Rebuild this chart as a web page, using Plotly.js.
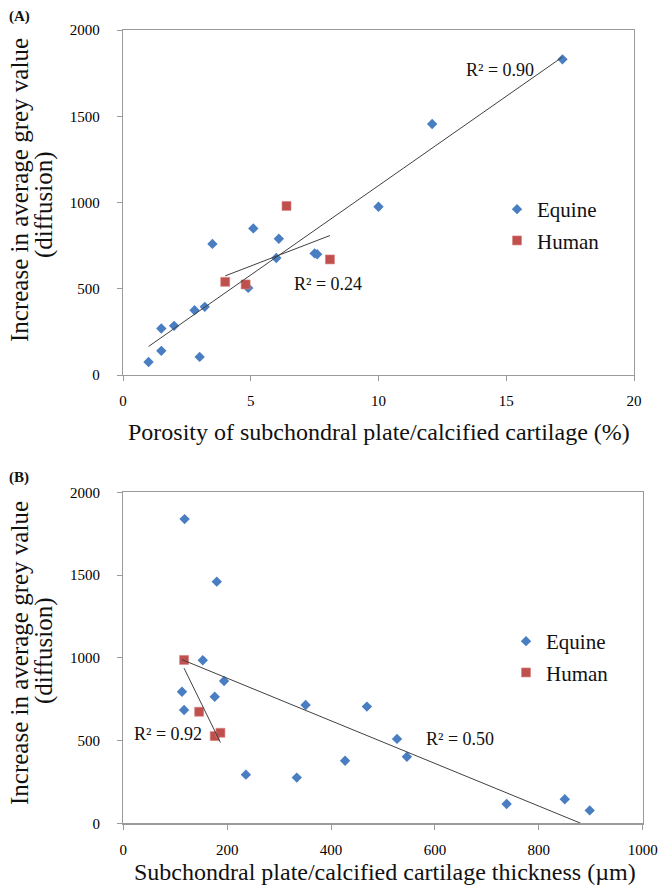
<!DOCTYPE html>
<html>
<head>
<meta charset="utf-8">
<script src="https://cdn.plot.ly/plotly-3.0.1.min.js"></script>
<style>html,body{margin:0;padding:0;background:#fff;}#chart{width:662px;height:887px;}</style>
</head>
<body>
<div id="chart"></div>
<script>
// Panel A: porosity (%) vs increase in grey value
const equineA_x = [1.0, 1.5, 1.5, 2.0, 2.8, 3.2, 3.0, 3.5, 4.9, 5.1, 6.1, 6.0, 7.5, 7.6, 10.0, 12.1, 17.2];
const equineA_y = [75, 140, 270, 285, 375, 395, 105, 760, 505, 850, 790, 678, 705, 700, 975, 1455, 1830];
const humanA_x = [4.0, 4.8, 6.4, 8.1];
const humanA_y = [540, 525, 980, 670];
// Panel B: thickness (µm) vs increase in grey value
const equineB_x = [118, 180, 153, 113, 117, 176, 194, 351, 469, 427, 236, 334, 527, 546, 738, 850, 898];
const equineB_y = [1838, 1460, 985, 795, 685, 765, 860, 715, 705, 378, 294, 276, 510, 402, 117, 145, 78];
const humanB_x = [117, 146, 176, 187];
const humanB_y = [987, 674, 527, 547];

const r2Labels = ["R² = 0.90", "R² = 0.24", "R² = 0.92", "R² = 0.50"];
const seriesNames = ["Equine", "Human"];
const yTicksVals = [0, 500, 1000, 1500, 2000];
const xTicksA = [0, 5, 10, 15, 20];
const xTicksB = [0, 200, 400, 600, 800, 1000];

function fit(xs, ys, clipZero) {
  const n = xs.length;
  const mx = xs.reduce((a, b) => a + b, 0) / n;
  const my = ys.reduce((a, b) => a + b, 0) / n;
  let sxy = 0, sxx = 0;
  for (let i = 0; i < n; i++) { sxy += (xs[i] - mx) * (ys[i] - my); sxx += (xs[i] - mx) ** 2; }
  const m = sxy / sxx, b = my - m * mx;
  const x0 = Math.min(...xs);
  let x1 = Math.max(...xs);
  if (clipZero && m * x1 + b < 0) x1 = -b / m;
  return { x: [x0, x1], y: [m * x0 + b, m * x1 + b] };
}

const BLUE = '#4A7EC2', RED = '#C0504D', LINE = '#404040';
const FONT = 'Liberation Serif, Times New Roman, serif';

const fA1 = fit(equineA_x, equineA_y, true);
const fA2 = fit(humanA_x, humanA_y, true);
const fB1 = fit(equineB_x, equineB_y, true);
const fB2 = fit(humanB_x, humanB_y, true);

const diamond = { symbol: 'diamond', size: 8, color: BLUE };
const square = { symbol: 'square', size: 9, color: RED, line: { color: '#D9837F', width: 0.6 } };

const traces = [
  { x: equineA_x, y: equineA_y, type: 'scatter', mode: 'markers', name: seriesNames[0], marker: diamond, xaxis: 'x', yaxis: 'y', legend: 'legend', legendgroup: 'a1', cliponaxis: false },
  { x: humanA_x, y: humanA_y, type: 'scatter', mode: 'markers', name: seriesNames[1], marker: square, xaxis: 'x', yaxis: 'y', legend: 'legend', legendgroup: 'a2', cliponaxis: false },
  { x: fA1.x, y: fA1.y, type: 'scatter', mode: 'lines', line: { color: LINE, width: 1 }, showlegend: false, xaxis: 'x', yaxis: 'y', hoverinfo: 'skip' },
  { x: fA2.x, y: fA2.y, type: 'scatter', mode: 'lines', line: { color: LINE, width: 1 }, showlegend: false, xaxis: 'x', yaxis: 'y', hoverinfo: 'skip' },
  { x: equineB_x, y: equineB_y, type: 'scatter', mode: 'markers', name: seriesNames[0], marker: diamond, xaxis: 'x2', yaxis: 'y2', legend: 'legend2', legendgroup: 'b1', cliponaxis: false },
  { x: humanB_x, y: humanB_y, type: 'scatter', mode: 'markers', name: seriesNames[1], marker: square, xaxis: 'x2', yaxis: 'y2', legend: 'legend2', legendgroup: 'b2', cliponaxis: false },
  { x: fB1.x, y: fB1.y, type: 'scatter', mode: 'lines', line: { color: LINE, width: 1 }, showlegend: false, xaxis: 'x2', yaxis: 'y2', hoverinfo: 'skip' },
  { x: fB2.x, y: fB2.y, type: 'scatter', mode: 'lines', line: { color: LINE, width: 1 }, showlegend: false, xaxis: 'x2', yaxis: 'y2', hoverinfo: 'skip' }
];

const W = 662, H = 887;
const px = v => v / W, py = v => (H - v) / H;

const axisCommon = {
  showgrid: false, zeroline: false, showline: true, mirror: true,
  linecolor: '#9a9a9a', linewidth: 1.2,
  ticks: 'outside', ticklen: 5, tickcolor: '#9a9a9a', tickwidth: 1,
  tickfont: { family: FONT, size: 15, color: '#000' },
  fixedrange: true
};

const legendCommon = {
  xanchor: 'left', yanchor: 'top', bgcolor: 'rgba(0,0,0,0)', borderwidth: 0,
  font: { family: FONT, size: 21, color: '#111' },
  itemwidth: 30, traceorder: 'grouped', tracegroupgap: 1
};

const annFont = { family: FONT, size: 24, color: '#111' };
const yTitleFont = { family: FONT, size: 25, color: '#111' };
const r2Font = { family: FONT, size: 18, color: '#111' };
const annotations = [
  { text: r2Labels[0], x: 14.74, y: 1768, xref: 'x', yref: 'y', showarrow: false, font: r2Font },
  { text: r2Labels[1], x: 8.04, y: 527, xref: 'x', yref: 'y', showarrow: false, font: r2Font },
  { text: r2Labels[2], x: 87, y: 540, xref: 'x2', yref: 'y2', showarrow: false, font: r2Font },
  { text: r2Labels[3], x: 649, y: 509, xref: 'x2', yref: 'y2', showarrow: false, font: r2Font },
  { text: 'Porosity of subchondral plate/calcified cartilage (%)', x: px(378.5), y: py(432), xref: 'paper', yref: 'paper', showarrow: false, font: annFont, xanchor: 'center', yanchor: 'middle' },
  { text: 'Subchondral plate/calcified cartilage thickness (µm)', x: px(385), y: py(872), xref: 'paper', yref: 'paper', showarrow: false, font: annFont, xanchor: 'center', yanchor: 'middle' },
  { text: 'Increase in average grey value', x: px(19), y: py(190), xref: 'paper', yref: 'paper', showarrow: false, textangle: -90, font: yTitleFont, xanchor: 'center', yanchor: 'middle' },
  { text: '(diffusion)', x: px(44), y: py(205), xref: 'paper', yref: 'paper', showarrow: false, textangle: -90, font: yTitleFont, xanchor: 'center', yanchor: 'middle' },
  { text: 'Increase in average grey value', x: px(19), y: py(653), xref: 'paper', yref: 'paper', showarrow: false, textangle: -90, font: yTitleFont, xanchor: 'center', yanchor: 'middle' },
  { text: '(diffusion)', x: px(44), y: py(651), xref: 'paper', yref: 'paper', showarrow: false, textangle: -90, font: yTitleFont, xanchor: 'center', yanchor: 'middle' },
  { text: '<b>(A)</b>', x: px(7), y: py(16), xref: 'paper', yref: 'paper', showarrow: false, xanchor: 'left', yanchor: 'middle', font: { family: FONT, size: 15, color: '#111' } },
  { text: '<b>(B)</b>', x: px(7), y: py(477), xref: 'paper', yref: 'paper', showarrow: false, xanchor: 'left', yanchor: 'middle', font: { family: FONT, size: 15, color: '#111' } }
];

const layout = {
  width: W, height: H,
  margin: { l: 0, r: 0, t: 0, b: 0 },
  paper_bgcolor: '#fff', plot_bgcolor: '#fff',
  showlegend: true,
  xaxis: Object.assign({}, axisCommon, { domain: [px(123), px(634)], range: [0, 20], tickvals: xTicksA, ticklabelstandoff: 7, anchor: 'y' }),
  yaxis: Object.assign({}, axisCommon, { domain: [py(375), py(30)], range: [0, 2000], tickvals: yTicksVals, ticklabelstandoff: 14, anchor: 'x' }),
  xaxis2: Object.assign({}, axisCommon, { domain: [px(123.3), px(642.7)], range: [0, 1000], tickvals: xTicksB, ticklabelstandoff: 7, anchor: 'y2' }),
  yaxis2: Object.assign({}, axisCommon, { domain: [py(823.3), py(492.3)], range: [0, 2000], tickvals: yTicksVals, ticklabelstandoff: 14, anchor: 'x2' }),
  legend: Object.assign({}, legendCommon, { x: px(497), y: py(189) }),
  legend2: Object.assign({}, legendCommon, { x: px(506), y: py(621) }),
  annotations: annotations
};

Plotly.newPlot('chart', traces, layout, { displayModeBar: false, staticPlot: true });
</script>
</body>
</html>
